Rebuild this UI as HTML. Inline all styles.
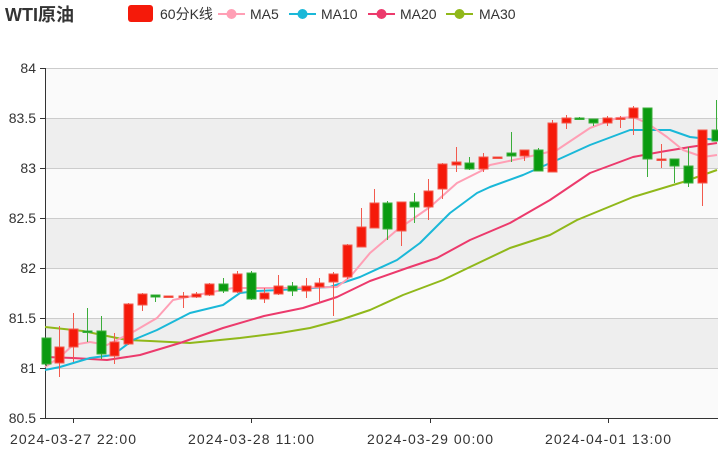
<!DOCTYPE html>
<html><head><meta charset="utf-8"><style>
body{margin:0;background:#fff;}
svg{display:block;font-family:"Liberation Sans","Noto Sans CJK SC",sans-serif;}
</style></head><body>
<svg width="718" height="450" viewBox="0 0 718 450">
<rect x="45" y="118" width="673" height="50" fill="#eeeeee"/>
<rect x="45" y="218" width="673" height="50" fill="#eeeeee"/>
<rect x="45" y="318" width="673" height="50" fill="#eeeeee"/>
<rect x="45" y="68" width="673" height="50" fill="#fafafa"/>
<rect x="45" y="168" width="673" height="50" fill="#fafafa"/>
<rect x="45" y="268" width="673" height="50" fill="#fafafa"/>
<rect x="45" y="368" width="673" height="50" fill="#fafafa"/>
<g stroke="#cccccc" stroke-width="1">
<line x1="45" y1="68.5" x2="718" y2="68.5"/><line x1="45" y1="118.5" x2="718" y2="118.5"/>
<line x1="45" y1="168.5" x2="718" y2="168.5"/><line x1="45" y1="218.5" x2="718" y2="218.5"/>
<line x1="45" y1="268.5" x2="718" y2="268.5"/><line x1="45" y1="318.5" x2="718" y2="318.5"/>
<line x1="45" y1="368.5" x2="718" y2="368.5"/>
</g>
<g stroke="#333" stroke-width="1">
<line x1="45.5" y1="68" x2="45.5" y2="418"/>
<line x1="45" y1="418.5" x2="718" y2="418.5"/>
<line x1="40" y1="68.5" x2="45" y2="68.5"/><line x1="40" y1="118.5" x2="45" y2="118.5"/>
<line x1="40" y1="168.5" x2="45" y2="168.5"/><line x1="40" y1="218.5" x2="45" y2="218.5"/>
<line x1="40" y1="268.5" x2="45" y2="268.5"/><line x1="40" y1="318.5" x2="45" y2="318.5"/>
<line x1="40" y1="368.5" x2="45" y2="368.5"/><line x1="40" y1="418.5" x2="45" y2="418.5"/>
<line x1="73.5" y1="418" x2="73.5" y2="423"/><line x1="251.5" y1="418" x2="251.5" y2="423"/>
<line x1="430.5" y1="418" x2="430.5" y2="423"/><line x1="608.5" y1="418" x2="608.5" y2="423"/>
</g>
<g font-size="14" fill="#333" text-anchor="end">
<text x="36" y="73">84</text><text x="36" y="123">83.5</text><text x="36" y="173">83</text>
<text x="36" y="223">82.5</text><text x="36" y="273">82</text><text x="36" y="323">81.5</text>
<text x="36" y="373">81</text><text x="36" y="423">80.5</text>
</g>
<g font-size="14" fill="#333">
<text x="10" y="444" textLength="126">2024-03-27 22:00</text><text x="188" y="444" textLength="126">2024-03-28 11:00</text>
<text x="367" y="444" textLength="126">2024-03-29 00:00</text><text x="545" y="444" textLength="126">2024-04-01 13:00</text>
</g>
<text x="5" y="21" font-size="18" font-weight="bold" fill="#333">WTI原油</text>
<rect x="128" y="5" width="25" height="17" rx="3" fill="#f51a0a"/>
<g font-size="14" fill="#333">
<text x="160" y="19">60分K线</text><text x="250" y="19">MA5</text><text x="321" y="19">MA10</text>
<text x="400" y="19">MA20</text><text x="479" y="19">MA30</text></g>
<g stroke-width="2">
<line x1="218" y1="14" x2="245" y2="14" stroke="#ff9fb5"/><circle cx="231.5" cy="14" r="5" fill="#ff9fb5"/>
<line x1="289" y1="14" x2="316" y2="14" stroke="#1ab8d8"/><circle cx="302.5" cy="14" r="5" fill="#1ab8d8"/>
<line x1="368" y1="14" x2="395" y2="14" stroke="#ec3a6c"/><circle cx="381.5" cy="14" r="5" fill="#ec3a6c"/>
<line x1="446" y1="14" x2="473" y2="14" stroke="#90b81a"/><circle cx="459.5" cy="14" r="5" fill="#90b81a"/>
</g>
<g fill="none" stroke-width="2" stroke-linejoin="round">
<polyline stroke="#90b81a" points="45,327 83,331 107,336 127,340 150,341 190,343 240,338 280,333 310,328 340,320 370,310 403,295 443,280 470,267 510,248 550,235 577,220 633,197 683,182 717,170"/>
<polyline stroke="#ec3a6c" points="45,357 73,358 107,360 140,355 180,343 223,328 264,316 303,308 337,297 370,281 410,267 437,258 470,240 510,223 550,200 590,173 633,157 660,152 690,147 717,143"/>
<polyline stroke="#1ab8d8" points="45,370 60,367 90,358 113,355 133,340 157,330 190,313 223,305 240,293 257,291 280,290 330,287 360,277 397,260 420,243 450,213 477,193 490,187 523,175 557,160 590,145 630,130 670,130 690,137 717,140"/>
<polyline stroke="#ff9fb5" points="45,367 60,357 73,345 90,342 107,345 133,332 157,318 173,300 207,293 233,288 280,288 337,287 350,277 370,253 397,230 430,207 457,183 483,170 490,165 523,158 557,150 590,128 617,118 633,117 647,123 667,137 683,150 703,157 717,155"/>
</g>
<g stroke-width="1">
<g stroke="#f25a4e" fill="#f51a0a">
<line x1="59.5" y1="326" x2="59.5" y2="377"/><rect x="55" y="347" width="9" height="16"/>
<line x1="73.5" y1="313" x2="73.5" y2="362"/><rect x="69" y="329" width="9" height="18"/>
<line x1="114.5" y1="333" x2="114.5" y2="364"/><rect x="110" y="342" width="9" height="14"/>
<line x1="128.5" y1="303" x2="128.5" y2="345"/><rect x="124" y="304" width="9" height="40"/>
<line x1="142.5" y1="293" x2="142.5" y2="311"/><rect x="138" y="294" width="9" height="11"/>
<rect x="164" y="296" width="9" height="1.5"/>
<line x1="183.5" y1="292" x2="183.5" y2="308"/><rect x="179" y="296" width="9" height="1.5"/>
<line x1="196.5" y1="292" x2="196.5" y2="298"/><rect x="192" y="294" width="9" height="3"/>
<line x1="209.5" y1="283" x2="209.5" y2="296"/><rect x="205" y="284" width="9" height="11"/>
<line x1="237.5" y1="271" x2="237.5" y2="293"/><rect x="233" y="274" width="9" height="18"/>
<line x1="264.5" y1="288" x2="264.5" y2="303"/><rect x="260" y="293" width="9" height="6"/>
<line x1="278.5" y1="275" x2="278.5" y2="295"/><rect x="274" y="286" width="9" height="8"/>
<line x1="306.5" y1="278" x2="306.5" y2="298"/><rect x="302" y="286" width="9" height="5"/>
<line x1="319.5" y1="278" x2="319.5" y2="303"/><rect x="315" y="283" width="9" height="4"/>
<line x1="333.5" y1="272" x2="333.5" y2="316"/><rect x="329" y="274" width="9" height="8"/>
<line x1="347.5" y1="244" x2="347.5" y2="279"/><rect x="343" y="245" width="9" height="32"/>
<line x1="361.5" y1="208" x2="361.5" y2="247"/><rect x="357" y="227" width="9" height="20"/>
<line x1="374.5" y1="189" x2="374.5" y2="228"/><rect x="370" y="203" width="9" height="25"/>
<line x1="401.5" y1="202" x2="401.5" y2="246"/><rect x="397" y="202" width="9" height="29"/>
<line x1="428.5" y1="179" x2="428.5" y2="220"/><rect x="424" y="191" width="9" height="16"/>
<line x1="442.5" y1="163" x2="442.5" y2="199"/><rect x="438" y="164" width="9" height="25"/>
<line x1="456.5" y1="147" x2="456.5" y2="172"/><rect x="452" y="162" width="9" height="3"/>
<line x1="483.5" y1="153" x2="483.5" y2="172"/><rect x="479" y="157" width="9" height="12"/>
<rect x="493" y="157" width="9" height="1.5"/>
<line x1="524.5" y1="150" x2="524.5" y2="161"/><rect x="520" y="150" width="9" height="6"/>
<line x1="552.5" y1="120" x2="552.5" y2="172"/><rect x="548" y="123" width="9" height="49"/>
<line x1="566.5" y1="115" x2="566.5" y2="129"/><rect x="562" y="118" width="9" height="5"/>
<line x1="607.5" y1="116" x2="607.5" y2="126"/><rect x="603" y="118" width="9" height="5"/>
<line x1="620.5" y1="116" x2="620.5" y2="128"/><rect x="616" y="118" width="9" height="1.5"/>
<line x1="633.5" y1="106" x2="633.5" y2="135"/><rect x="629" y="108" width="9" height="10"/>
<line x1="661.5" y1="144" x2="661.5" y2="168"/><rect x="657" y="159" width="9" height="1.5"/>
<line x1="702.5" y1="130" x2="702.5" y2="206"/><rect x="698" y="130" width="9" height="53"/>
</g>
<g stroke="#3aad3a" fill="#0a9a10">
<line x1="46.5" y1="338" x2="46.5" y2="366"/><rect x="42" y="338" width="9" height="26"/>
<line x1="87.5" y1="308" x2="87.5" y2="342"/><rect x="83" y="331" width="9" height="1.5"/>
<line x1="101.5" y1="316" x2="101.5" y2="359"/><rect x="97" y="331" width="9" height="23"/>
<line x1="155.5" y1="295" x2="155.5" y2="302"/><rect x="151" y="295" width="9" height="2"/>
<line x1="223.5" y1="278" x2="223.5" y2="293"/><rect x="219" y="284" width="9" height="7"/>
<line x1="251.5" y1="271" x2="251.5" y2="300"/><rect x="247" y="273" width="9" height="26"/>
<line x1="292.5" y1="282" x2="292.5" y2="296"/><rect x="288" y="286" width="9" height="5"/>
<line x1="387.5" y1="201" x2="387.5" y2="240"/><rect x="383" y="203" width="9" height="26"/>
<line x1="414.5" y1="193" x2="414.5" y2="223"/><rect x="410" y="202" width="9" height="5"/>
<line x1="469.5" y1="157" x2="469.5" y2="170"/><rect x="465" y="163" width="9" height="6"/>
<line x1="511.5" y1="132" x2="511.5" y2="162"/><rect x="507" y="153" width="9" height="3"/>
<line x1="538.5" y1="148" x2="538.5" y2="171"/><rect x="534" y="150" width="9" height="21"/>
<line x1="579.5" y1="117" x2="579.5" y2="120"/><rect x="575" y="118" width="9" height="1.5"/>
<line x1="593.5" y1="119" x2="593.5" y2="126"/><rect x="589" y="119" width="9" height="4"/>
<line x1="647.5" y1="108" x2="647.5" y2="177"/><rect x="643" y="108" width="9" height="51"/>
<line x1="674.5" y1="159" x2="674.5" y2="183"/><rect x="670" y="159" width="9" height="7"/>
<line x1="688.5" y1="147" x2="688.5" y2="187"/><rect x="684" y="166" width="9" height="17"/>
<line x1="716.5" y1="100" x2="716.5" y2="141"/><rect x="712" y="130" width="9" height="11"/>
</g>
</g>
</svg>
</body></html>
